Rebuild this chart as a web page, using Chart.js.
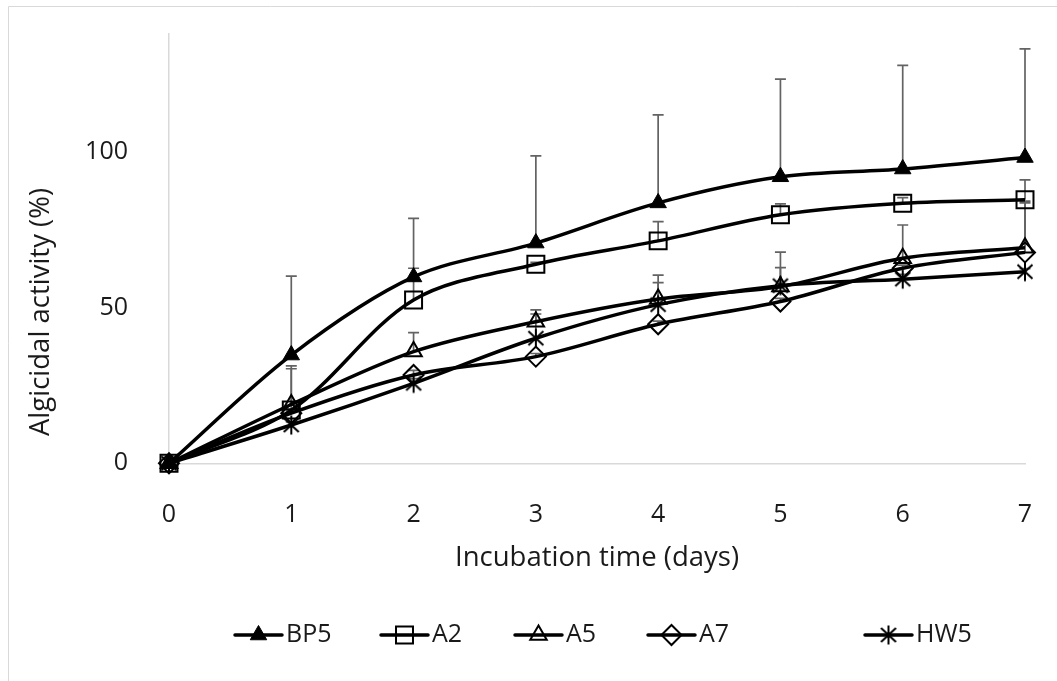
<!DOCTYPE html>
<html>
<head>
<meta charset="utf-8">
<script src="https://cdn.jsdelivr.net/npm/chart.js@4/dist/chart.umd.min.js"></script>
<style>
html,body{margin:0;padding:0;background:#fff;overflow:hidden;}
canvas{display:block;}
</style>
</head>
<body>
<canvas id="c" width="1057" height="681"></canvas>
<script>
// ---- data ----
const days = ['0','1','2','3','4','5','6','7'];
const seriesNames = ['BP5','A2','A5','A7','HW5'];
const bp5    = [0, 34.8, 59.9, 70.8, 83.7, 92.1, 94.6, 98.3];
const bp5Err = [0, 25.4, 18.8, 28.0, 28.3, 31.4, 33.3, 34.9];
const a2     = [0, 17.1, 52.5, 64.0, 71.5, 79.9, 83.6, 84.7];
const a2Err  = [0, 13.3, 10.2, 0.6, 6.2, 3.5, 1.8, 6.4];
const a5     = [0, 18.9, 35.9, 45.5, 52.8, 56.8, 65.9, 69.3];
const a5Err  = [0, 12.4, 6.1, 3.8, 7.7, 11.1, 10.7, 14.4];
const a7     = [0, 16.1, 28.4, 34.3, 44.7, 52.0, 62.7, 67.8];
const a7Err  = [0, 1.0, 1.5, 1.0, 1.0, 1.0, 1.0, 16.5];
const hw5    = [0, 12.3, 25.7, 40.2, 51.0, 57.1, 59.2, 61.6];
const hw5Err = [0, 1.0, 1.5, 7.8, 7.1, 5.8, 1.5, 1.0];
const yTicks = [0, 50, 100];
const xTitle = 'Incubation time (days)';
const yTitle = 'Algicidal activity (%)';

const TEXT = '#1a1a1a';
const FONT = "'Open Sans', 'Noto Sans', sans-serif";

// asterisk marker (Excel style: X plus vertical bar)
function makeAsterisk() {
  const c = document.createElement('canvas');
  c.width = 22; c.height = 22;
  const g = c.getContext('2d');
  g.strokeStyle = '#000'; g.lineWidth = 2; g.lineCap = 'butt';
  g.beginPath();
  g.moveTo(11, 1.5); g.lineTo(11, 20.5);
  g.moveTo(3.5, 4); g.lineTo(18.5, 18);
  g.moveTo(18.5, 4); g.lineTo(3.5, 18);
  g.stroke();
  return c;
}
const asterisk = makeAsterisk();

const markerStyles = [
  {pointStyle: 'triangle', radius: 9.5, bg: '#000', bw: 1},
  {pointStyle: 'rect', radius: 12, bg: 'rgba(0,0,0,0)', bw: 2},
  {pointStyle: 'triangle', radius: 9.5, bg: 'rgba(0,0,0,0)', bw: 2},
  {pointStyle: 'rectRot', radius: 10, bg: 'rgba(0,0,0,0)', bw: 2},
  {pointStyle: asterisk, radius: 10, bg: 'rgba(0,0,0,0)', bw: 0}
];
const values = [bp5, a2, a5, a7, hw5];
const errors = [bp5Err, a2Err, a5Err, a7Err, hw5Err];

const datasets = seriesNames.map((n, i) => ({
  label: n,
  data: values[i],
  errs: errors[i],
  borderColor: '#000',
  borderWidth: 3.5,
  tension: 0.33,
  fill: false,
  clip: false,
  pointStyle: markerStyles[i].pointStyle,
  pointRadius: markerStyles[i].radius,
  pointHoverRadius: markerStyles[i].radius,
  pointBackgroundColor: markerStyles[i].bg,
  pointBorderColor: '#000',
  pointBorderWidth: markerStyles[i].bw
}));

// layout constants
const LEG_X = [235, 381, 515, 648, 865];
const LEG_Y = 635;
const LEG_LINE = 47;

const framePlugin = {
  id: 'frame',
  beforeDraw(chart) {
    const ctx = chart.ctx;
    ctx.save();
    ctx.strokeStyle = '#d9d9d9';
    ctx.lineWidth = 1;
    ctx.beginPath();
    ctx.moveTo(8.5, 681); ctx.lineTo(8.5, 6.5); ctx.lineTo(1057, 6.5);
    ctx.stroke();
    ctx.restore();
  }
};

const errorBarPlugin = {
  id: 'errorBars',
  beforeDatasetsDraw(chart) {
    const ctx = chart.ctx;
    const ys = chart.scales.y;
    ctx.save();
    ctx.strokeStyle = '#636363';
    ctx.lineWidth = 1.7;
    chart.data.datasets.forEach((ds, i) => {
      const meta = chart.getDatasetMeta(i);
      meta.data.forEach((pt, j) => {
        const e = ds.errs[j];
        if (!e) return;
        const yTop = ys.getPixelForValue(ds.data[j] + e);
        ctx.beginPath();
        ctx.moveTo(pt.x, pt.y); ctx.lineTo(pt.x, yTop);
        ctx.moveTo(pt.x - 5.5, yTop); ctx.lineTo(pt.x + 5.5, yTop);
        ctx.stroke();
      });
    });
    ctx.restore();
  }
};

const legendPlugin = {
  id: 'customLegend',
  afterDraw(chart) {
    const ctx = chart.ctx;
    ctx.save();
    chart.data.datasets.forEach((ds, i) => {
      const x0 = LEG_X[i], x1 = x0 + LEG_LINE;
      ctx.strokeStyle = '#000';
      ctx.lineWidth = 3.5;
      ctx.lineCap = 'round';
      ctx.beginPath(); ctx.moveTo(x0, LEG_Y); ctx.lineTo(x1, LEG_Y); ctx.stroke();
      ctx.lineCap = 'butt';
      ctx.fillStyle = ds.pointBackgroundColor;
      ctx.strokeStyle = '#000';
      ctx.lineWidth = ds.pointBorderWidth;
      Chart.helpers.drawPoint(ctx, {pointStyle: ds.pointStyle, radius: ds.pointRadius, rotation: 0, borderWidth: ds.pointBorderWidth}, (x0 + x1) / 2, LEG_Y);
      ctx.fillStyle = TEXT;
      ctx.font = '25px ' + FONT;
      ctx.textAlign = 'left';
      ctx.textBaseline = 'middle';
      ctx.fillText(ds.label, x1 + 4, LEG_Y);
    });
    ctx.restore();
  }
};

const yTitlePlugin = {
  id: 'yTitle',
  afterDraw(chart) {
    const ctx = chart.ctx;
    ctx.save();
    ctx.translate(41, 312);
    ctx.rotate(-Math.PI / 2);
    ctx.fillStyle = TEXT;
    ctx.font = '27.5px ' + FONT;
    ctx.textAlign = 'center';
    ctx.textBaseline = 'middle';
    ctx.fillText(yTitle, 0, 0);
    ctx.restore();
  }
};

function zeroPad(s) { s.paddingTop = 0; s.paddingBottom = 0; s.paddingLeft = 0; s.paddingRight = 0; }

new Chart(document.getElementById('c'), {
  type: 'line',
  data: {labels: days, datasets},
  plugins: [framePlugin, errorBarPlugin, legendPlugin, yTitlePlugin],
  options: {
    responsive: false,
    devicePixelRatio: 1,
    animation: false,
    events: [],
    layout: {padding: {left: 10, right: 32, top: 34, bottom: 106.5}},
    plugins: {legend: {display: false}, tooltip: {enabled: false}, title: {display: false}},
    scales: {
      x: {
        type: 'category',
        offset: false,
        grid: {display: false, drawTicks: false},
        border: {display: true, color: '#d9d9d9', width: 1.5},
        ticks: {color: TEXT, font: {family: FONT, size: 25}, padding: 37, maxRotation: 0, autoSkip: false},
        title: {display: true, text: xTitle, color: TEXT, font: {family: FONT, size: 27.5}, padding: {top: 0, bottom: 0}},
        afterFit(s) { s.height = 111.2; zeroPad(s); }
      },
      y: {
        type: 'linear',
        min: 0, max: 138,
        grid: {display: false, drawTicks: false},
        border: {display: true, color: '#d9d9d9', width: 1.5},
        afterBuildTicks(s) { s.ticks = yTicks.map(v => ({value: v})); },
        ticks: {color: TEXT, font: {family: FONT, size: 25}, padding: 41, includeBounds: false},
        afterFit(s) { s.width = 159; zeroPad(s); }
      }
    }
  }
});
</script>
</body>
</html>
